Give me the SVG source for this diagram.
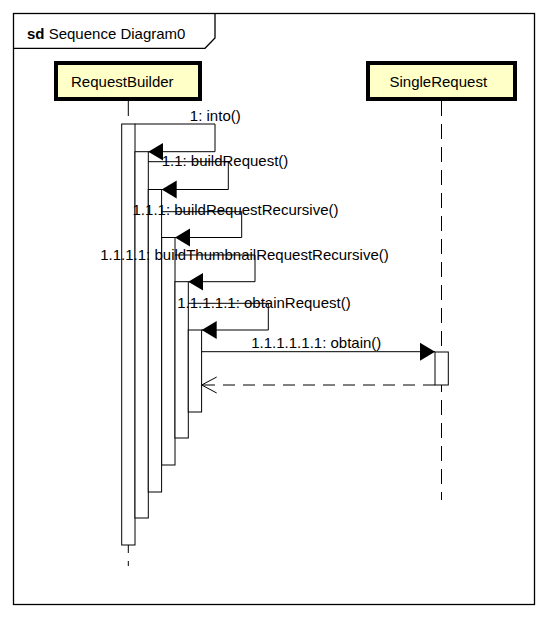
<svg xmlns="http://www.w3.org/2000/svg" width="548" height="618" viewBox="0 0 548 618">
<style>
text{font-family:"Liberation Sans",Arial,sans-serif;font-size:15px;fill:#000}
.frame{fill:none;stroke:#000;stroke-width:1.3}
.head{fill:#ffffc8;stroke:#000;stroke-width:4}
.life{stroke:#000;stroke-width:1;stroke-dasharray:15 8;fill:none}
.act{fill:#fff;stroke:#000;stroke-width:1}
.msg{fill:none;stroke:#000;stroke-width:1}
.ret{fill:none;stroke:#000;stroke-width:1;stroke-dasharray:12 8}
</style>
<defs>
<marker id="fill" markerUnits="userSpaceOnUse" markerWidth="16" markerHeight="20" viewBox="0 -10 16 20" refX="15" refY="0" orient="auto">
<path d="M0,-9 L15,0 L0,9 z" fill="#000" stroke="none"/>
</marker>
<marker id="open" markerUnits="userSpaceOnUse" markerWidth="17" markerHeight="20" viewBox="0 -10 17 20" refX="15" refY="0" orient="auto">
<path d="M0,-8 L15,0 L0,8" fill="none" stroke="#000" stroke-width="1" stroke-dasharray="none"/>
</marker>
</defs>
<rect width="548" height="618" fill="#fff"/>
<g id="frame">
<rect class="frame" x="13.5" y="13.5" width="521" height="591"/>
<path class="frame" d="M13.5,48.3 H205 L215,38 V13.5"/>
<text x="27" y="38.5"><tspan font-weight="bold">sd</tspan> Sequence Diagram0</text>
</g>
<g id="RequestBuilder">
<line class="life" x1="128.3" y1="101" x2="128.3" y2="566"/>
<rect class="head" x="56" y="63" width="144" height="36"/>
<text x="122.3" y="87" text-anchor="middle">RequestBuilder</text>
<rect class="act" x="121.7" y="124" width="13.3" height="421"/>
<rect class="act" x="135" y="151.7" width="13.3" height="366.3"/>
<rect class="act" x="148.3" y="189.5" width="13.3" height="302.5"/>
<rect class="act" x="161.7" y="237.5" width="13.3" height="227.5"/>
<rect class="act" x="175" y="281.7" width="13.3" height="156.3"/>
<rect class="act" x="188.3" y="330" width="13.3" height="82"/>
</g>
<g id="SingleRequest">
<line class="life" x1="441.5" y1="101" x2="441.5" y2="500"/>
<rect class="head" x="368" y="63" width="147" height="36"/>
<text x="438.3" y="87" text-anchor="middle">SingleRequest</text>
<rect class="act" x="435" y="352" width="13.3" height="33"/>
</g>
<g id="connectors">
<path class="msg" d="M135,124 H215 V151.7 H148.3" marker-end="url(#fill)"/>
<text x="215.3" y="121" text-anchor="middle">1: into()</text>
<path class="msg" d="M148.3,161.7 H228.3 V189.5 H161.7" marker-end="url(#fill)"/>
<text x="225" y="166" text-anchor="middle">1.1: buildRequest()</text>
<path class="msg" d="M161.7,211.7 H241.7 V237.5 H175" marker-end="url(#fill)"/>
<text x="235.5" y="215" text-anchor="middle">1.1.1: buildRequestRecursive()</text>
<path class="msg" d="M175,255 H255 V281.7 H188.3" marker-end="url(#fill)"/>
<text x="244.5" y="260" text-anchor="middle">1.1.1.1: buildThumbnailRequestRecursive()</text>
<path class="msg" d="M188.3,303.3 H268.3 V330 H201.7" marker-end="url(#fill)"/>
<text x="264" y="307.5" text-anchor="middle">1.1.1.1.1: obtainRequest()</text>
<path class="msg" d="M201.7,351.7 H435" marker-end="url(#fill)"/>
<text x="316.3" y="347.5" text-anchor="middle">1.1.1.1.1.1: obtain()</text>
<path class="ret" d="M435,385 H201.7" marker-end="url(#open)"/>
</g>
</svg>
